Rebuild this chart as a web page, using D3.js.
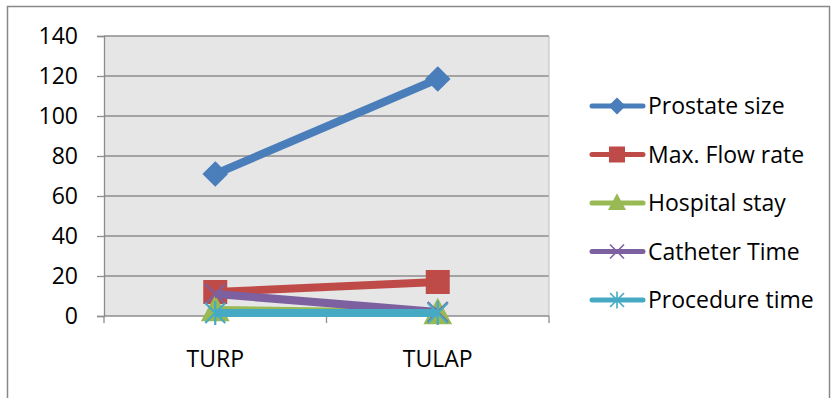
<!DOCTYPE html>
<html>
<head>
<meta charset="utf-8">
<script src="https://cdn.jsdelivr.net/npm/d3@7"></script>
<style>
  html, body { margin: 0; padding: 0; background: #fff; }
  svg { display: block; font-family: "Open Sans", "Noto Sans", sans-serif; }
</style>
</head>
<body>
<svg id="chart" width="838" height="398"></svg>
<script>
// Outcome comparison between the two procedures
const categories = ["TURP", "TULAP"];
const seriesNames = ["Prostate size", "Max. Flow rate", "Hospital stay", "Catheter Time", "Procedure time"];
const prostateSize = [71, 118.5];
const maxFlowRate = [12, 17];
const hospitalStay = [3, 1.5];
const catheterTime = [11, 2];
const procedureTime = [1.5, 1.5];
const yTicks = [0, 20, 40, 60, 80, 100, 120, 140];

const colors = ["#4A7EBB", "#BE4B48", "#98B954", "#7D60A0", "#46AAC5"];
const markers = ["diamond", "square", "triangle", "x", "star"];
const seriesValues = [prostateSize, maxFlowRate, hospitalStay, catheterTime, procedureTime];
const series = seriesNames.map((name, i) => ({ name, values: seriesValues[i], color: colors[i], marker: markers[i] }));

const FONT_SIZE = 23;
const svg = d3.select("#chart");

// outer chart border
svg.append("rect")
  .attr("x", 7.5).attr("y", 6.5).attr("width", 822).attr("height", 400)
  .attr("fill", "#fff").attr("stroke", "#898989").attr("stroke-width", 1.5);

const plot = { left: 104, right: 549, top: 36, bottom: 316 };

const x = d3.scaleBand().domain(categories).range([plot.left, plot.right]);
const y = d3.scaleLinear().domain([0, 140]).range([plot.bottom, plot.top]);

// plot area background
svg.append("rect")
  .attr("x", plot.left).attr("y", plot.top)
  .attr("width", plot.right - plot.left).attr("height", plot.bottom - plot.top)
  .attr("fill", "#E6E6E6");

// horizontal gridlines
svg.append("g").selectAll("line").data(yTicks.filter(t => t > 0)).join("line")
  .attr("x1", plot.left).attr("x2", plot.right)
  .attr("y1", d => y(d)).attr("y2", d => y(d))
  .attr("stroke", "#8C8C8C").attr("stroke-width", 1.3);

// right edge of plot area
svg.append("line")
  .attr("x1", plot.right).attr("x2", plot.right)
  .attr("y1", plot.top).attr("y2", plot.bottom)
  .attr("stroke", "#BDBDBD").attr("stroke-width", 1);

// y axis
const yAxis = svg.append("g")
  .attr("transform", `translate(${plot.left},0)`)
  .call(d3.axisLeft(y).tickValues(yTicks).tickSize(7).tickPadding(19));
yAxis.selectAll("path, line").attr("stroke", "#8C8C8C").attr("stroke-width", 1.3);
yAxis.selectAll("text").attr("font-size", FONT_SIZE).attr("fill", "#000")
  .style("font-family", "'Open Sans', sans-serif");

// x axis with ticks on the category boundaries
const xAxis = svg.append("g").attr("transform", `translate(0,${plot.bottom})`);
xAxis.append("line")
  .attr("x1", plot.left).attr("x2", plot.right)
  .attr("stroke", "#8C8C8C").attr("stroke-width", 1.3);
const boundaries = [plot.left, ...categories.map(c => x(c) + x.bandwidth())];
xAxis.selectAll(".tk").data(boundaries).join("line")
  .attr("x1", d => d).attr("x2", d => d).attr("y1", 0).attr("y2", 7)
  .attr("stroke", "#8C8C8C").attr("stroke-width", 1.3);
xAxis.selectAll("text").data(categories).join("text")
  .attr("x", d => x(d) + x.bandwidth() / 2)
  .attr("y", 51)
  .attr("text-anchor", "middle")
  .attr("font-size", FONT_SIZE)
  .text(d => d);

// marker shapes
function markerPath(type, s) {
  switch (type) {
    case "diamond": return `M0,${-s}L${s},0L0,${s}L${-s},0Z`;
    case "square": return `M${-s},${-s}H${s}V${s}H${-s}Z`;
    case "triangle": return `M0,${-s}L${s},${s * 0.85}L${-s},${s * 0.85}Z`;
    case "x": return `M${-s},${-s}L${s},${s}M${s},${-s}L${-s},${s}`;
    case "star": return `M${-s},${-s}L${s},${s}M${s},${-s}L${-s},${s}M0,${-s * 1.2}V${s * 1.2}`;
  }
}
const markerSize = { diamond: 10, square: 10, triangle: 11, x: 10, star: 10 };

const line = d3.line()
  .x((d, i) => x(categories[i]) + x.bandwidth() / 2)
  .y(d => y(d));

series.forEach(s => {
  const g = svg.append("g");
  g.append("path")
    .attr("d", line(s.values))
    .attr("fill", "none")
    .attr("stroke", s.color)
    .attr("stroke-width", 8)
    .attr("stroke-linejoin", "round");
  const open = s.marker === "x" || s.marker === "star";
  g.selectAll("path.mk").data(s.values).join("path")
    .attr("class", "mk")
    .attr("transform", (d, i) => `translate(${x(categories[i]) + x.bandwidth() / 2},${y(d)})`)
    .attr("d", markerPath(s.marker, markerSize[s.marker]))
    .attr("fill", open ? "none" : s.color)
    .attr("stroke", s.color)
    .attr("stroke-width", open ? 2.2 : 4)
    .attr("stroke-linejoin", "miter");
});

// legend
const legend = svg.append("g");
const legendY = d3.scalePoint().domain(seriesNames).range([106, 300]);
series.forEach(s => {
  const gy = legendY(s.name);
  const open = s.marker === "x" || s.marker === "star";
  const g = legend.append("g").attr("transform", `translate(0,${gy})`);
  g.append("line").attr("x1", 592).attr("x2", 643).attr("stroke", s.color)
    .attr("stroke-width", 5).attr("stroke-linecap", "round");
  g.append("path")
    .attr("transform", "translate(617,0)")
    .attr("d", markerPath(s.marker, open ? 7 : 6.5))
    .attr("fill", open ? "none" : s.color)
    .attr("stroke", s.color)
    .attr("stroke-width", open ? 1.6 : 3);
  g.append("text").attr("x", 648).attr("y", 8).attr("font-size", FONT_SIZE).text(s.name);
});
</script>
</body>
</html>
